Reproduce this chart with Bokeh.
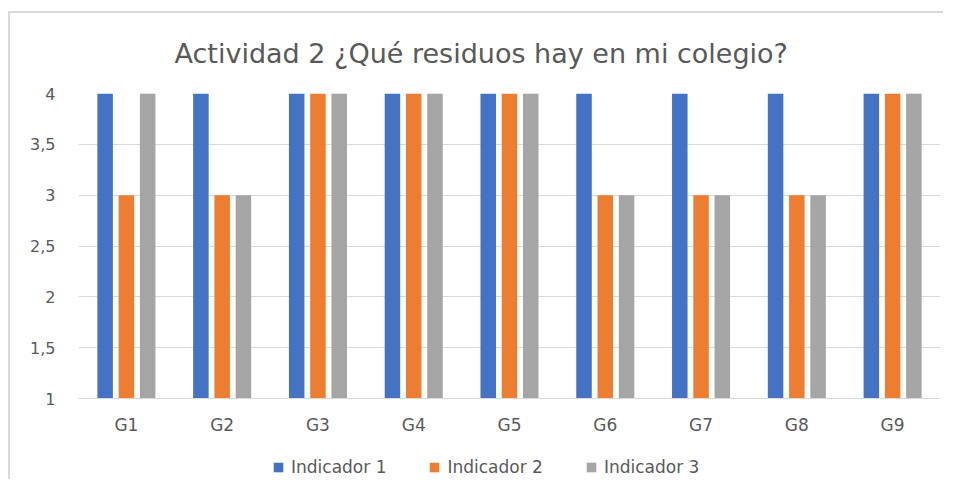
from bokeh.plotting import figure
from bokeh.layouts import column
from bokeh.models import (FactorRange, FixedTicker, Legend, LegendItem,
                          ColumnDataSource, Range1d)
from bokeh.transform import dodge
from bokeh.embed import file_html
from bokeh.resources import INLINE

groups = ["G1", "G2", "G3", "G4", "G5", "G6", "G7", "G8", "G9"]
indicador_1 = [4, 4, 4, 4, 4, 4, 4, 4, 4]
indicador_2 = [3, 3, 4, 4, 4, 3, 3, 3, 4]
indicador_3 = [4, 3, 4, 4, 4, 3, 3, 3, 4]
series_names = ["Indicador 1", "Indicador 2", "Indicador 3"]
colors = ["#4472C4", "#ED7D31", "#A5A5A5"]
y_ticks = [1, 1.5, 2, 2.5, 3, 3.5, 4]
y_tick_labels = ["1", "1,5", "2", "2,5", "3", "3,5", "4"]
title_text = "Actividad 2 ¿Qué residuos hay en mi colegio?"

FONT = "DejaVu Sans"
GREY = "#595959"
BORDER = "#D9D9D9"

src = ColumnDataSource(dict(g=groups, i1=indicador_1, i2=indicador_2, i3=indicador_3))

p = figure(width=943, height=440, x_range=FactorRange(*groups), y_range=(1, 4),
           output_backend="svg", toolbar_location=None, title=title_text,
           min_border_left=78, min_border_right=3, min_border_top=93,
           min_border_bottom=42)
p.title.align = "left"
p.title.offset = 96
p.title.standoff = 50
p.title.text_font = FONT
p.title.text_font_size = "27px"
p.title.text_font_style = "normal"
p.title.text_color = GREY
p.outline_line_color = None
p.background_fill_color = "white"
p.border_fill_alpha = 0
p.styles = {
    "background-color": "white",
    "background-image": f"linear-gradient({BORDER}, {BORDER}), linear-gradient({BORDER}, {BORDER})",
    "background-size": "2px 100%, 100% 2px",
    "background-position": "8px 11px, 8px 11px",
    "background-repeat": "no-repeat",
}

for col, off, c in zip(["i1", "i2", "i3"], [-0.222, 0.0, 0.222], colors):
    p.vbar(x=dodge("g", off, range=p.x_range), top=col, bottom=1, width=0.162,
           source=src, fill_color=c, line_color=None)

p.yaxis.ticker = FixedTicker(ticks=y_ticks)
p.yaxis.major_label_overrides = {t: l for t, l in zip(y_ticks, y_tick_labels)}
p.yaxis.axis_line_color = None
p.yaxis.major_tick_line_color = None
p.yaxis.minor_tick_line_color = None
p.yaxis.major_tick_out = 0
p.yaxis.major_tick_in = 0
p.yaxis.major_label_standoff = 23
p.yaxis.major_label_text_font_size = "16px"
p.xaxis.axis_line_color = BORDER
p.xaxis.major_tick_line_color = None
p.xaxis.major_tick_out = 0
p.xaxis.major_tick_in = 0
p.xaxis.major_label_standoff = 16
p.xaxis.major_label_text_font_size = "17px"
for ax in (p.xaxis, p.yaxis):
    ax.major_label_text_font = FONT
    ax.major_label_text_color = GREY
p.xgrid.grid_line_color = None
p.ygrid.grid_line_color = BORDER
p.ygrid.ticker = FixedTicker(ticks=y_ticks)

# legend strip below the chart (its frame is aligned with the chart's frame)
lg = figure(width=943, height=39, x_range=Range1d(0, 1), y_range=Range1d(0, 1),
            output_backend="svg", toolbar_location=None, min_border=0)
lg.axis.visible = False
lg.grid.visible = False
lg.outline_line_color = None
lg.background_fill_alpha = 0
lg.border_fill_alpha = 0
lg.styles = {
    "background-color": "white",
    "background-image": f"linear-gradient({BORDER}, {BORDER})",
    "background-size": "2px 100%",
    "background-position": "8px 0px",
    "background-repeat": "no-repeat",
}
items = []
for n, c in zip(series_names, colors):
    # legend swatch only: NaN data draws nothing in the strip itself
    r = lg.vbar(x=[float("nan")], top=[float("nan")], width=0.1, fill_color=c, line_color=None)
    items.append(LegendItem(label=n, renderers=[r]))
legend = Legend(items=items, orientation="horizontal", location=(194, 2),
                padding=0, margin=0, spacing=42, glyph_width=12, glyph_height=12,
                label_standoff=7, label_text_font=FONT, label_text_font_size="17px",
                label_text_color=GREY, border_line_color=None, background_fill_alpha=0)
lg.add_layout(legend, "center")

layout = column(p, lg, spacing=0)
open("out.html", "w").write(file_html(layout, INLINE))
